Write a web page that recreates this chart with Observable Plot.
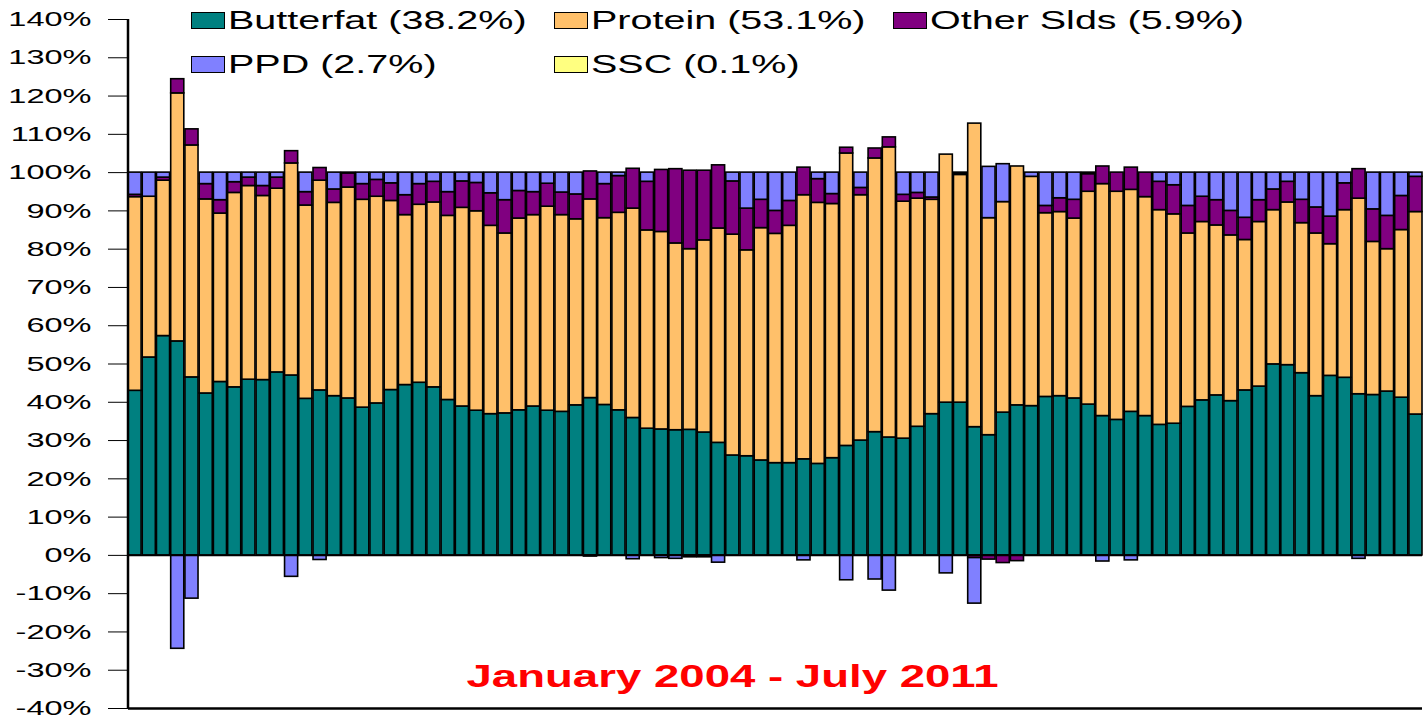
<!DOCTYPE html>
<html><head><meta charset="utf-8">
<script src="https://cdn.jsdelivr.net/npm/d3@7"></script>
<script src="https://cdn.jsdelivr.net/npm/@observablehq/plot@0.6"></script>
<style>
body{margin:0;background:#fff;font-family:"Liberation Sans",Arial,sans-serif;}
#wrap{position:relative;width:1426px;height:719px;overflow:hidden;}
#legend{position:absolute;left:0;top:0;width:1426px;height:90px;pointer-events:none;}
.item{position:absolute;display:flex;align-items:center;height:30px;}
.sw{width:34px;height:17px;border:1.5px solid #000;box-sizing:border-box;flex:none;}
.lab{font-size:25px;line-height:30px;transform:scaleX(1.58);transform-origin:left center;white-space:nowrap;margin-left:3px;color:#000;}
</style></head><body>
<div id="wrap"><div id="chart"></div><div id="legend"></div></div>
<script>
// Series names and legend labels
const seriesNames = ["Butterfat", "Protein", "Other Slds", "PPD", "SSC"];
const legendLabels = ["Butterfat (38.2%)", "Protein (53.1%)", "Other Slds (5.9%)", "PPD (2.7%)", "SSC (0.1%)"];
const seriesColors = ["#008080", "#FFC06A", "#800080", "#8080FF", "#FFFF80"];
const titleText = "January 2004 - July 2011";
const yTicks = [-40,-30,-20,-10,0,10,20,30,40,50,60,70,80,90,100,110,120,130,140];

// Months Jan 2004 .. Jul 2011 (91 categories)
const months = d3.utcMonth.range(new Date(Date.UTC(2004,0,1)), new Date(Date.UTC(2011,7,1))).map(d => d3.utcFormat("%Y-%m")(d));

// Component shares (% of all-milk price)
const butterfat = [43.0,51.7,57.3,55.9,46.5,42.3,45.3,43.9,45.9,45.8,47.8,47.0,40.9,43.1,41.6,41.0,
 38.6,39.7,43.2,44.5,45.1,43.9,40.6,38.9,37.8,36.9,37.1,37.9,38.9,37.8,37.5,
 39.2,41.1,39.3,37.9,35.9,33.1,32.9,32.7,32.8,32.1,29.4,26.1,25.9,24.8,24.1,24.1,
 25.1,23.9,25.4,28.6,30.0,32.2,30.8,30.5,33.6,36.9,39.9,39.9,33.5,31.4,37.3,
 39.2,39.0,41.4,41.6,41.0,39.4,36.4,35.4,37.5,36.4,34.1,34.4,38.8,40.5,41.8,
 40.3,43.1,44.1,49.9,49.7,47.6,41.6,46.9,46.4,42.1,41.9,42.8,41.2,36.8];
const protein = [50.6,42.0,40.6,64.8,60.6,50.7,44.0,50.8,50.6,48.1,48.0,55.4,50.5,54.8,50.5,55.1,
 54.3,54.0,49.4,44.4,46.5,48.3,48.1,51.9,52.1,49.2,47.0,50.1,50.0,53.3,51.4,
 48.6,51.9,48.8,51.6,54.7,51.8,51.6,48.8,47.2,50.2,56.0,57.7,53.8,60.7,59.9,62.0,
 69.0,68.2,66.4,76.4,64.1,71.5,75.8,61.9,59.6,56.0,64.8,59.5,79.3,56.7,55.0,
 62.4,59.9,48.0,48.1,47.0,55.6,60.6,59.6,58.0,57.2,56.1,54.7,45.3,46.6,44.4,
 43.3,39.3,43.0,40.3,42.5,39.2,42.5,34.4,43.8,51.1,40.0,37.2,43.8,52.9];
const otherSolids = [0.6,0,0.8,3.7,4.2,4.0,3.5,2.8,2.2,2.6,2.9,3.2,3.5,3.3,3.5,3.7,
 4.1,4.4,4.6,5.2,5.4,5.4,6.2,6.9,7.4,8.5,8.7,7.2,6.0,6.0,5.9,
 6.5,7.3,8.9,9.6,10.4,12.7,16.2,19.4,20.5,18.2,16.5,13.9,10.9,7.4,6.0,6.5,
 7.2,6.2,2.6,1.5,1.9,2.6,2.6,1.8,1.5,0.6,0,0.3,-0.7,-1.1,-2.0,
 -1.5,0,1.9,3.6,4.9,4.6,4.6,5.0,5.8,6.4,7.4,7.6,7.2,6.6,6.6,
 6.4,5.8,5.7,5.4,5.4,6.1,6.8,7.2,7.0,7.7,8.5,8.7,8.9,9.2];
const ppd = [5.8,6.3,1.3,-24.4,-11.3,3.0,7.2,2.5,1.3,3.5,1.3,-5.6,5.1,-1.2,4.4,0.2,
 3.0,1.9,2.8,5.9,3.0,2.4,5.1,2.3,2.7,5.4,7.2,4.8,5.1,2.9,5.2,
 5.7,-0.3,3.0,0.9,-1.0,2.4,-0.7,-0.9,-0.5,-0.5,-1.9,2.3,9.4,7.1,10.0,7.4,
 -1.3,1.7,5.6,-6.5,4.0,-6.3,-9.2,5.8,5.3,6.5,-4.7,0.3,-11.9,13.4,9.9,
 0,1.1,8.7,6.7,7.1,0.4,-1.6,0,-1.3,0,2.4,3.3,8.7,6.3,7.2,
 10.0,11.8,7.2,4.4,2.4,7.1,9.1,11.5,2.8,-0.9,9.6,11.3,6.1,1.1];

const seriesValues = [butterfat, protein, otherSolids, ppd];
const data = [];
months.forEach((m, i) => {
  seriesValues.forEach((arr, k) => {
    if (arr[i] !== 0) data.push({month: m, series: seriesNames[k], value: arr[i]});
  });
});

const MARGIN_LEFT = 128;
const chart = Plot.plot({
  width: 1426, height: 719,
  marginLeft: MARGIN_LEFT, marginRight: 4, marginTop: 19, marginBottom: 11,
  x: {domain: months, axis: null, paddingInner: 0.08, paddingOuter: 0, round: false},
  y: {domain: [-40, 140]},
  color: {domain: seriesNames, range: seriesColors},
  style: {fontFamily: "'Liberation Sans', Arial, sans-serif", fontSize: "21px", color: "#000", background: "#fff"},
  marks: [
    Plot.barY(data, {x: "month", y: "value", fill: "series", stroke: "#000", strokeWidth: 1.6, inset: 0}),
    Plot.ruleY([0], {stroke: "#000", strokeWidth: 1.5}),
    Plot.ruleY([-40], {stroke: "#000", strokeWidth: 2.5}),
    Plot.axisY({ticks: yTicks, tickFormat: d => d + "%", tickSize: 20, tickPadding: 17, fontSize: 21, stroke: "#000", label: null}),
    Plot.text([titleText], {frameAnchor: "bottom", dx: -43, dy: -22, fill: "#FF0000", fontWeight: "bold", fontSize: 31, text: d => d})
  ]
});

// left axis line from the y scale
const ys = chart.scale("y");
const yTop = Math.min(...ys.range), yBot = Math.max(...ys.range);
d3.select(chart).append("line")
  .attr("x1", MARGIN_LEFT).attr("x2", MARGIN_LEFT)
  .attr("y1", yTop).attr("y2", yBot)
  .attr("stroke", "#000").attr("stroke-width", 2.5);

// horizontally stretch text like the reference (scale about each text's anchor)
d3.select(chart).selectAll("text").each(function() {
  const isTitle = this.textContent.includes("January");
  const s = isTitle ? 1.47 : 1.55;
  let tr = this.getAttribute("transform") || "";
  const x = parseFloat(this.getAttribute("x"));
  if (!isNaN(x) && x !== 0) {
    tr += ` translate(${x},0)`;
    this.removeAttribute("x");
  }
  this.setAttribute("transform", (tr + ` scale(${s},1)`).trim());
});

document.getElementById("chart").appendChild(chart);

// legend overlay
const legendCols = [191, 554, 893];
const legendRows = [5, 49];
const legend = document.getElementById("legend");
legendLabels.forEach((lab, i) => {
  const row = i < 3 ? 0 : 1;
  const col = i < 3 ? i : i - 3;
  const item = document.createElement("div");
  item.className = "item";
  item.style.left = legendCols[col] + "px";
  item.style.top = legendRows[row] + "px";
  const sw = document.createElement("div");
  sw.className = "sw";
  sw.style.background = seriesColors[i];
  const t = document.createElement("span");
  t.className = "lab";
  t.textContent = lab;
  item.appendChild(sw); item.appendChild(t);
  legend.appendChild(item);
});
</script>
</body></html>
